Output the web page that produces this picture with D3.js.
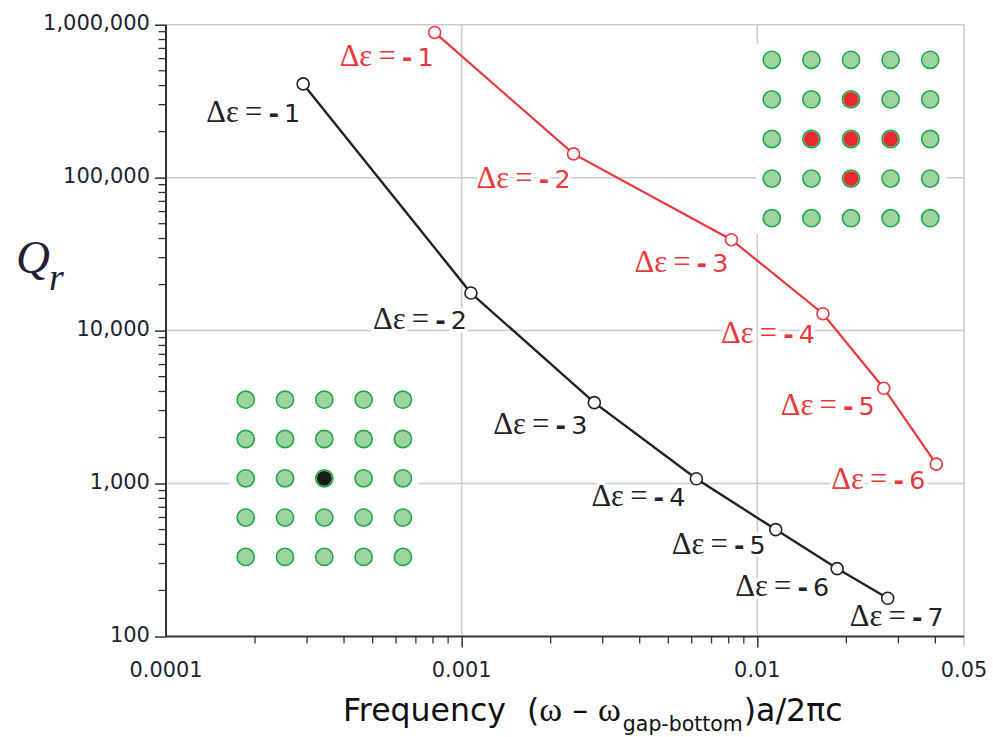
<!DOCTYPE html>
<html><head><meta charset="utf-8">
<script src="https://cdn.jsdelivr.net/npm/d3@7/dist/d3.min.js"></script>
<style>
html,body{margin:0;padding:0;background:#fff;}
svg{display:block;}
</style></head>
<body>
<svg id="chart" width="993" height="737"></svg>
<script>
// ---------- data ----------
const blackFreq = [0.000291, 0.001075, 0.00281, 0.00622, 0.01154, 0.01862, 0.0276];
const blackQ    = [410000, 17600, 3380, 1075, 500, 278, 178];
const blackLabels = ["1", "2", "3", "4", "5", "6", "7"];
const redFreq = [0.00081, 0.00239, 0.00817, 0.01667, 0.02677, 0.0403];
const redQ    = [890000, 143000, 39300, 12900, 4200, 1340];
const redLabels = ["1", "2", "3", "4", "5", "6"];
const xTickValues = [0.0001, 0.001, 0.01, 0.05];
const xTickLabels = ["0.0001", "0.001", "0.01", "0.05"];
const yTickValues = [100, 1000, 10000, 100000, 1000000];
const yTickLabels = ["100", "1,000", "10,000", "100,000", "1,000,000"];
// inset lattices (5x5): [row, col] of defect rods
const leftDefects  = [[2,2]];
const rightDefects = [[1,2],[2,1],[2,2],[2,3],[3,2]];

// ---------- layout ----------
const L = 166, R = 964, T = 24.7, B = 636.5;
const blackOff = [[-3,38],[-4,36],[-7,31],[-11,27],[-10,24],[-8,27],[56,28]];
const redOff   = [[-1,34],[-3,34],[-3,32],[-8,29],[-9,27],[-11,25]];
const RED = "#e8383d", BLK = "#222", GRID = "#c6cbd3", TXT = "#1d2333";

const svg = d3.select("#chart");
const x = d3.scaleLog().domain([0.0001, 0.05]).range([L, R]);
const y = d3.scaleLog().domain([100, 1000000]).range([B, T]);

// scale all font sizes in a text so that its advance equals target
function fitWidth(sel, target) {
  const w = sel.node().getComputedTextLength();
  const k = target / w;
  const nodes = [sel.node(), ...sel.selectAll("tspan").nodes()];
  nodes.forEach(n => { const fs = n.getAttribute("font-size"); if (fs) n.setAttribute("font-size", +fs * k); });
  return k;
}

// gridlines
const g = svg.append("g");
[0.001, 0.01].forEach(v => g.append("line").attr("x1", x(v)).attr("x2", x(v)).attr("y1", T).attr("y2", B)
  .attr("stroke", GRID).attr("stroke-width", 1.5));
[1000, 10000, 100000, 1000000].forEach(v => g.append("line").attr("x1", L).attr("x2", R).attr("y1", y(v)).attr("y2", y(v))
  .attr("stroke", GRID).attr("stroke-width", 1.5));
g.append("line").attr("x1", R).attr("x2", R).attr("y1", T).attr("y2", B + 10).attr("stroke", GRID).attr("stroke-width", 1.5);

// insets
function inset(cx, cy, sp, defects, dcol) {
  const ig = svg.append("g");
  ig.append("rect").attr("x", cx - 2.4*sp).attr("y", cy - 2.4*sp).attr("width", 4.8*sp).attr("height", 4.8*sp).attr("fill", "#fff");
  for (let r = 0; r < 5; r++) for (let c = 0; c < 5; c++) {
    const isD = defects.some(d => d[0] === r && d[1] === c);
    ig.append("circle").attr("cx", cx + (c-2)*sp).attr("cy", cy + (r-2)*sp).attr("r", 8.6)
      .attr("fill", "#9dd39f").attr("stroke", "#1fa84a").attr("stroke-width", 1.6);
    if (isD) ig.append("circle").attr("cx", cx + (c-2)*sp).attr("cy", cy + (r-2)*sp).attr("r", 7.4)
      .attr("fill", dcol);
  }
}
inset(324.3, 478.3, 39.3, leftDefects, "#1a1a1a");
inset(851, 139, 39.6, rightDefects, "#e8282c");

// axes
const yAxis = d3.axisLeft(y).tickValues(yTickValues).tickFormat("").tickSize(11);
const ya = svg.append("g").attr("transform", `translate(${L},0)`).call(yAxis);
const yMinor = [];
for (let e = 2; e < 6; e++) for (let m = 2; m <= 9; m++) yMinor.push(m * Math.pow(10, e));
svg.append("g").selectAll("line").data(yMinor).join("line")
  .attr("x1", L - 7.5).attr("x2", L).attr("y1", d => y(d)).attr("y2", d => y(d)).attr("stroke", "#333").attr("stroke-width", 1.3);

const xAxis = d3.axisBottom(x).tickValues(xTickValues.slice(1,3)).tickFormat("").tickSize(11);
const xa = svg.append("g").attr("transform", `translate(0,${B})`).call(xAxis);
const xMinor = [];
[0.0001, 0.001].forEach(base => { for (let m = 2; m <= 9; m++) xMinor.push(m * base); });
[2,3,4].forEach(m => xMinor.push(m * 0.01));
svg.append("g").selectAll("line").data(xMinor).join("line")
  .attr("x1", d => x(d)).attr("x2", d => x(d)).attr("y1", B).attr("y2", B + 7).attr("stroke", "#333").attr("stroke-width", 1.3);
[ya, xa].forEach(a => {
  a.select(".domain").attr("stroke", "#333").attr("stroke-width", 2);
  a.selectAll(".tick line").attr("stroke", "#333").attr("stroke-width", 1.5);
});
ya.select(".domain").attr("d", `M0,${B}V${T}`);
xa.select(".domain").attr("d", `M${L},0H${R}`);

// y tick labels
const ytl = svg.append("g").selectAll("text").data(yTickValues).join("text")
  .attr("x", 150).attr("y", d => y(d) + 5.5).attr("text-anchor", "end")
  .attr("font-family", "DejaVu Sans").attr("font-size", 20).attr("fill", TXT)
  .text((d,i) => yTickLabels[i]);
{ const n = ytl.nodes()[4]; const k = 107 / n.getComputedTextLength(); ytl.attr("font-size", 20 * k); }
// x tick labels
const xtl = svg.append("g").selectAll("text").data(xTickValues).join("text")
  .attr("x", d => x(d)).attr("y", 676.5).attr("text-anchor", "middle")
  .attr("font-family", "DejaVu Sans").attr("font-size", 20).attr("fill", TXT)
  .text((d,i) => xTickLabels[i]);
{ const n = xtl.nodes()[0]; const k = 73 / n.getComputedTextLength(); xtl.attr("font-size", 20 * k); }

// point labels (under the lines, white halo breaks the gridlines)
function labels(fx, qy, labs, off, col) {
  const lg = svg.append("g");
  fx.forEach((f, i) => {
    const t = lg.append("text").attr("x", x(f) + off[i][0]).attr("y", y(qy[i]) + off[i][1])
      .attr("text-anchor", "end").attr("fill", col)
      .attr("stroke", "#fff").attr("stroke-width", 7).attr("paint-order", "stroke").attr("stroke-linejoin", "round");
    t.append("tspan").attr("font-family", "Liberation Serif").attr("font-size", 29).text("Δε");
    t.append("tspan").attr("font-family", "Liberation Serif").attr("font-size", 29).text("\u2009=\u2009");
    t.append("tspan").attr("font-family", "DejaVu Sans").attr("font-size", 24).attr("font-weight", "bold").text("-");
    t.append("tspan").attr("font-family", "DejaVu Sans").attr("font-size", 24).text("\u2009" + labs[i]);
    fitWidth(t, 94);
  });
}
labels(blackFreq, blackQ, blackLabels, blackOff, BLK);
labels(redFreq, redQ, redLabels, redOff, RED);

// series
const line = d3.line().x(d => x(d[0])).y(d => y(d[1]));
function series(fx, qy, col, w) {
  const pts = fx.map((f, i) => [f, qy[i]]);
  svg.append("path").datum(pts).attr("d", line).attr("fill", "none").attr("stroke", col).attr("stroke-width", w);
  svg.append("g").selectAll("circle").data(pts).join("circle")
    .attr("cx", d => x(d[0])).attr("cy", d => y(d[1])).attr("r", 6)
    .attr("fill", "#fff").attr("stroke", col).attr("stroke-width", 1.6);
}
series(blackFreq, blackQ, BLK, 2.4);
series(redFreq, redQ, RED, 2.2);

// y axis title
svg.append("text").attr("x", 16).attr("y", 273).attr("font-family", "Liberation Serif").attr("font-style", "italic")
  .attr("fill", TXT).attr("font-size", 47).text("Q");
svg.append("text").attr("x", 49).attr("y", 290).attr("font-family", "Liberation Serif").attr("font-style", "italic")
  .attr("fill", TXT).attr("font-size", 38).text("r");

// x axis title
const t1 = svg.append("text").attr("x", 343).attr("y", 721).attr("font-family", "DejaVu Sans")
  .attr("fill", "#111").attr("font-size", 30).text("Frequency");
const k1 = fitWidth(t1, 163);
const FS = 30 * k1;
const t2 = svg.append("text").attr("x", 527).attr("y", 721).attr("fill", "#111");
t2.append("tspan").attr("font-family", "DejaVu Sans").attr("font-size", FS).text("(");
t2.append("tspan").attr("font-family", "Liberation Serif").attr("font-size", FS * 1.1).text("ω");
t2.append("tspan").attr("font-family", "DejaVu Sans").attr("font-size", FS).text(" – ");
t2.append("tspan").attr("font-family", "Liberation Serif").attr("font-size", FS * 1.1).text("ω");
const x3 = 527 + t2.node().getComputedTextLength() + 2;
const t3 = svg.append("text").attr("x", x3).attr("y", 731).attr("font-family", "DejaVu Sans")
  .attr("fill", "#111").attr("font-size", 20).text("gap-bottom");
fitWidth(t3, 120);
const x4 = x3 + t3.node().getComputedTextLength() + 1;
svg.append("text").attr("x", x4).attr("y", 721).attr("font-family", "DejaVu Sans")
  .attr("fill", "#111").attr("font-size", FS).text(")a/2πc");
</script>
</body></html>
